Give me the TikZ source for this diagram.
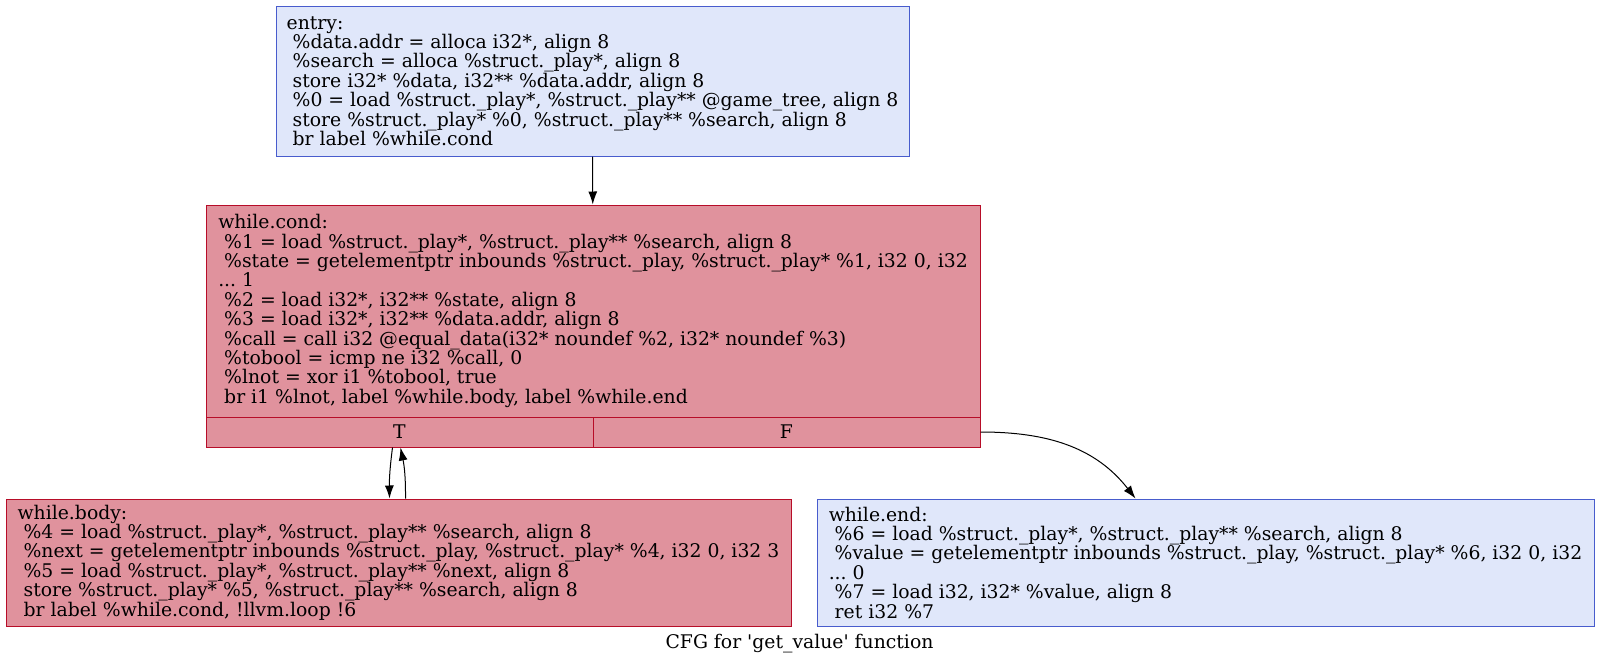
\documentclass[tikz,border=0pt]{standalone}
\usepackage{fontspec}
\setmainfont{DejaVu Serif}
\usetikzlibrary{arrows.meta}
\definecolor{coldfill}{RGB}{224,231,250}
\definecolor{colddraw}{RGB}{72,92,205}
\definecolor{hotfill}{RGB}{224,146,157}
\definecolor{hotdraw}{RGB}{183,13,40}
\newcommand\ind{\hspace*{0.318em}}

\begin{document}
\begin{tikzpicture}[x=1pt,y=-1pt,->,>={Latex[length=13pt,width=9pt]},line width=1pt,
  font=\fontsize{18.8}{19.4}\selectfont\frenchspacing,
  cold/.style={draw=colddraw,fill=coldfill,align=left,inner sep=0pt},
  hot/.style={draw=hotdraw,fill=hotfill,align=left,inner sep=0pt}]
  \useasboundingbox (0,0) rectangle (1599,664);
  \node[cold,minimum width=633,minimum height=150] (entry) at (592.5,81) {entry:\\
    \ind\%data.addr = alloca i32*, align 8\\
    \ind\%search = alloca \%struct.\_play*, align 8\\
    \ind store i32* \%data, i32** \%data.addr, align 8\\
    \ind\%0 = load \%struct.\_play*, \%struct.\_play** @game\_tree, align 8\\
    \ind store \%struct.\_play* \%0, \%struct.\_play** \%search, align 8\\
    \ind br label \%while.cond};
  \node[hot,minimum width=774,minimum height=212] (condtop) at (593,311) {while.cond:\\
    \ind\%1 = load \%struct.\_play*, \%struct.\_play** \%search, align 8\\
    \ind\%state = getelementptr inbounds \%struct.\_play, \%struct.\_play* \%1, i32 0, i32\\
    ... 1\\
    \ind\%2 = load i32*, i32** \%state, align 8\\
    \ind\%3 = load i32*, i32** \%data.addr, align 8\\
    \ind\%call = call i32 @equal\_data(i32* noundef \%2, i32* noundef \%3)\\
    \ind\%tobool = icmp ne i32 \%call, 0\\
    \ind\%lnot = xor i1 \%tobool, true\\
    \ind br i1 \%lnot, label \%while.body, label \%while.end};
  \node[hot,minimum width=387,minimum height=30] (condT) at (399.5,432) {T};
  \node[hot,minimum width=387,minimum height=30] (condF) at (786.5,432) {F};
  \node[hot,minimum width=785,minimum height=127] (body) at (398.5,562.5) {while.body:\\
    \ind\%4 = load \%struct.\_play*, \%struct.\_play** \%search, align 8\\
    \ind\%next = getelementptr inbounds \%struct.\_play, \%struct.\_play* \%4, i32 0, i32 3\\
    \ind\%5 = load \%struct.\_play*, \%struct.\_play** \%next, align 8\\
    \ind store \%struct.\_play* \%5, \%struct.\_play** \%search, align 8\\
    \ind br label \%while.cond, !llvm.loop !6};
  \node[cold,minimum width=777,minimum height=127] (endb) at (1205.5,562.5) {while.end:\\
    \ind\%6 = load \%struct.\_play*, \%struct.\_play** \%search, align 8\\
    \ind\%value = getelementptr inbounds \%struct.\_play, \%struct.\_play* \%6, i32 0, i32\\
    ... 0\\
    \ind\%7 = load i32, i32* \%value, align 8\\
    \ind ret i32 \%7};
  \node (caption) at (799.5,644) {CFG for \textquotesingle get\_value\textquotesingle\ function};
  \path (entry) edge (condtop);
  \path ([xshift=-7pt]condT.south) edge [bend right=4] ([xshift=-9pt]body.north);
  \path ([xshift=7pt]body.north) edge [bend right=6] ([xshift=1pt]condT.south);
  \path (condF.east) edge [out=0,in=128] ([xshift=-70pt]endb.north);
\end{tikzpicture}
\end{document}
